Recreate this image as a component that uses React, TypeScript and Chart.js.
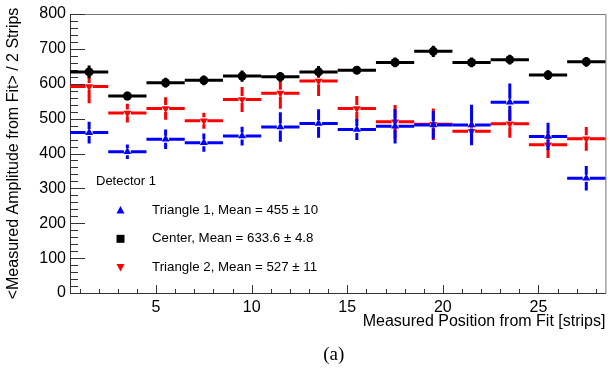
import React, { useEffect, useRef } from "react";
import { Chart, registerables } from "chart.js";

Chart.register(...registerables);

// Strip bins (width 2) along the measured position
const binCenters = [1.5, 3.5, 5.5, 7.5, 9.5, 11.5, 13.5, 15.5, 17.5, 19.5, 21.5, 23.5, 25.5, 27.5];
const binHalfWidth = 1;

const triangle1Values = [460, 405, 441, 431, 450, 476, 486, 469, 478, 482, 482, 547, 449, 329];
const triangle1Errors = [31, 21, 28, 26, 27, 42, 41, 30, 49, 40, 58, 54, 39, 35];

const centerValues = [634, 565, 603, 610, 622, 620, 634, 639, 661, 693, 661, 669, 625, 663];
const centerErrors = [18, 12, 14, 14, 16, 14, 16, 12, 14, 16, 14, 14, 14, 14];

const triangle2Values = [592, 516, 529, 494, 555, 573, 608, 529, 491, 484, 464, 485, 425, 442];
const triangle2Errors = [48, 27, 32, 23, 36, 45, 43, 36, 48, 45, 38, 40, 38, 34];

const xTickLabels = [5, 10, 15, 20, 25];
const yTickLabels = [0, 100, 200, 300, 400, 500, 600, 700, 800];

const seriesLabels = [
  "Triangle 1, Mean = 455 \u00b1 10",
  "Center, Mean = 633.6 \u00b1 4.8",
  "Triangle 2, Mean = 527 \u00b1 11",
];
const legendHeader = "Detector 1";
const xTitle = "Measured Position from Fit [strips]";
const yTitle = "<Measured Amplitude from Fit> / 2 Strips";
const caption = "(a)";

const FONT = "'Liberation Sans', Arial, Helvetica, sans-serif";
const SERIF = "'Liberation Serif', 'Times New Roman', serif";

// Half-size of the hole left in the error bars around each marker (px)
const MARKER_GAP = 3.5;

type Marker = "up" | "down" | "square";

function drawMarker(ctx: CanvasRenderingContext2D, kind: Marker, x: number, y: number, color: string) {
  ctx.save();
  ctx.fillStyle = color;
  ctx.beginPath();
  if (kind === "square") {
    ctx.rect(x - 4, y - 4, 8, 8);
  } else if (kind === "up") {
    ctx.moveTo(x, y - 4);
    ctx.lineTo(x + 4, y + 3.5);
    ctx.lineTo(x - 4, y + 3.5);
    ctx.closePath();
  } else {
    ctx.moveTo(x, y + 4);
    ctx.lineTo(x + 4, y - 3.5);
    ctx.lineTo(x - 4, y - 3.5);
    ctx.closePath();
  }
  ctx.fill();
  ctx.restore();
}

// Horizontal (bin width) and vertical (value error) bars, drawn under each dataset's markers
const errorBarPlugin = {
  id: "errorBars",
  beforeDatasetDraw(chart: any, args: any) {
    const ds = chart.data.datasets[args.index];
    const errs: number[] = ds.errors;
    if (!errs) return;
    const { ctx, scales } = chart;
    const xs = scales.x;
    const ys = scales.y;
    const g = MARKER_GAP;
    ctx.save();
    ctx.strokeStyle = ds.borderColor;
    ctx.lineWidth = 3;
    ctx.lineCap = "butt";
    ds.data.forEach((p: { x: number; y: number }, i: number) => {
      const px0 = xs.getPixelForValue(p.x - binHalfWidth);
      const px1 = xs.getPixelForValue(p.x + binHalfWidth);
      const px = xs.getPixelForValue(p.x);
      const py = ys.getPixelForValue(p.y);
      const pyLo = ys.getPixelForValue(p.y - errs[i]);
      const pyHi = ys.getPixelForValue(p.y + errs[i]);
      ctx.beginPath();
      ctx.moveTo(px0, py);
      ctx.lineTo(px - g, py);
      ctx.moveTo(px + g, py);
      ctx.lineTo(px1, py);
      if (pyLo - py > g) {
        ctx.moveTo(px, py + g);
        ctx.lineTo(px, pyLo);
      }
      if (py - pyHi > g) {
        ctx.moveTo(px, py - g);
        ctx.lineTo(px, pyHi);
      }
      ctx.stroke();
    });
    ctx.restore();
  },
};

// Frame with inward ticks
const framePlugin = {
  id: "frameTicks",
  beforeDatasetsDraw(chart: any) {
    const { ctx, chartArea, scales } = chart;
    const { left, right, top, bottom } = chartArea;
    ctx.save();
    ctx.lineWidth = 1;
    ctx.strokeStyle = "#777";
    ctx.beginPath();
    ctx.moveTo(left, top + 0.5);
    ctx.lineTo(right + 0.5, top + 0.5);
    ctx.lineTo(right + 0.5, bottom);
    ctx.stroke();
    ctx.strokeStyle = "#333";
    ctx.beginPath();
    ctx.moveTo(left + 0.5, top);
    ctx.lineTo(left + 0.5, bottom + 0.5);
    ctx.lineTo(right + 0.5, bottom + 0.5);
    ctx.stroke();
    ctx.beginPath();
    const ys = scales.y;
    for (let v = ys.min; v <= ys.max; v += 20) {
      const y = Math.round(ys.getPixelForValue(v)) + 0.5;
      const len = v % 100 === 0 ? 15 : 8;
      ctx.moveTo(left, y);
      ctx.lineTo(left + len, y);
    }
    const xs = scales.x;
    for (let v = Math.ceil(xs.min); v <= xs.max; v += 1) {
      const x = Math.round(xs.getPixelForValue(v)) + 0.5;
      const len = v % 5 === 0 ? 8 : 4;
      ctx.moveTo(x, bottom);
      ctx.lineTo(x, bottom - len);
    }
    ctx.stroke();
    ctx.restore();
  },
};

// Legend box inside the frame plus the panel caption
const legendPlugin = {
  id: "panelLegend",
  afterDraw(chart: any) {
    const { ctx, chartArea } = chart;
    const { left, right, bottom } = chartArea;
    ctx.save();
    ctx.fillStyle = "#000";
    ctx.textBaseline = "middle";
    ctx.textAlign = "left";
    ctx.font = `13px ${FONT}`;
    ctx.fillText(legendHeader, left + 26, bottom - 112);
    const markers: Marker[] = ["up", "square", "down"];
    chart.data.datasets.forEach((ds: any, i: number) => {
      const y = bottom - 83 + i * 28.8;
      drawMarker(ctx, markers[i], left + 50.5, y, ds.backgroundColor);
      ctx.fillStyle = "#000";
      ctx.font = `13.3px ${FONT}`;
      ctx.fillText(ds.label, left + 82, y);
    });
    ctx.font = `19px ${SERIF}`;
    ctx.textAlign = "center";
    ctx.fillText(caption, (left + right) / 2 - 4, bottom + 62);
    ctx.restore();
  },
};

export default function App() {
  const canvasRef = useRef<HTMLCanvasElement | null>(null);

  useEffect(() => {
    if (!canvasRef.current) return;
    const toPoints = (vals: number[]) => vals.map((v, i) => ({ x: binCenters[i], y: v }));
    const chart = new Chart(canvasRef.current, {
      type: "scatter",
      data: {
        datasets: [
          {
            label: seriesLabels[0],
            data: toPoints(triangle1Values),
            errors: triangle1Errors,
            backgroundColor: "#0000ff",
            borderColor: "#0000ff",
            pointStyle: "triangle",
            pointRadius: 4.6,
            pointBorderWidth: 0,
          } as any,
          {
            label: seriesLabels[1],
            data: toPoints(centerValues),
            errors: centerErrors,
            backgroundColor: "#000000",
            borderColor: "#000000",
            pointStyle: "circle",
            pointRadius: 4.5,
            pointBorderWidth: 0,
          } as any,
          {
            label: seriesLabels[2],
            data: toPoints(triangle2Values),
            errors: triangle2Errors,
            backgroundColor: "#ff0000",
            borderColor: "#ff0000",
            pointStyle: "triangle",
            pointRotation: 180,
            pointRadius: 4.6,
            pointBorderWidth: 0,
          } as any,
        ],
      },
      options: {
        responsive: false,
        animation: false,
        events: [],
        layout: { padding: { top: 14, right: 3, left: 0, bottom: 0 } },
        plugins: {
          legend: { display: false },
          tooltip: { enabled: false },
        },
        scales: {
          x: {
            type: "linear",
            min: 0.5,
            max: 28.5,
            grid: { display: false, drawTicks: false },
            border: { display: false },
            afterBuildTicks: (scale: any) => {
              scale.ticks = xTickLabels.map((v) => ({ value: v }));
            },
            afterFit: (scale: any) => {
              scale.height = 81;
            },
            ticks: {
              color: "#000",
              font: { family: FONT, size: 16 },
              padding: 5,
              maxRotation: 0,
            },
            title: {
              display: true,
              text: xTitle,
              align: "end",
              color: "#000",
              font: { family: FONT, size: 16 },
              padding: { top: 0, bottom: 43 },
            },
          },
          y: {
            type: "linear",
            min: 0,
            max: 800,
            grid: { display: false, drawTicks: false },
            border: { display: false },
            afterBuildTicks: (scale: any) => {
              scale.ticks = yTickLabels.map((v) => ({ value: v }));
            },
            afterFit: (scale: any) => {
              scale.width = 70;
            },
            ticks: {
              color: "#000",
              font: { family: FONT, size: 16 },
              padding: 4,
            },
            title: {
              display: true,
              text: yTitle,
              color: "#000",
              font: { family: FONT, size: 16 },
              padding: { top: 4, bottom: 0 },
            },
          },
        },
      },
      plugins: [framePlugin, errorBarPlugin, legendPlugin],
    });
    return () => chart.destroy();
  }, []);

  return (
    <div style={{ position: "absolute", left: 0, top: 0, width: 610, height: 374, background: "#fff" }}>
      <canvas ref={canvasRef} width={610} height={374} style={{ display: "block" }} />
    </div>
  );
}
